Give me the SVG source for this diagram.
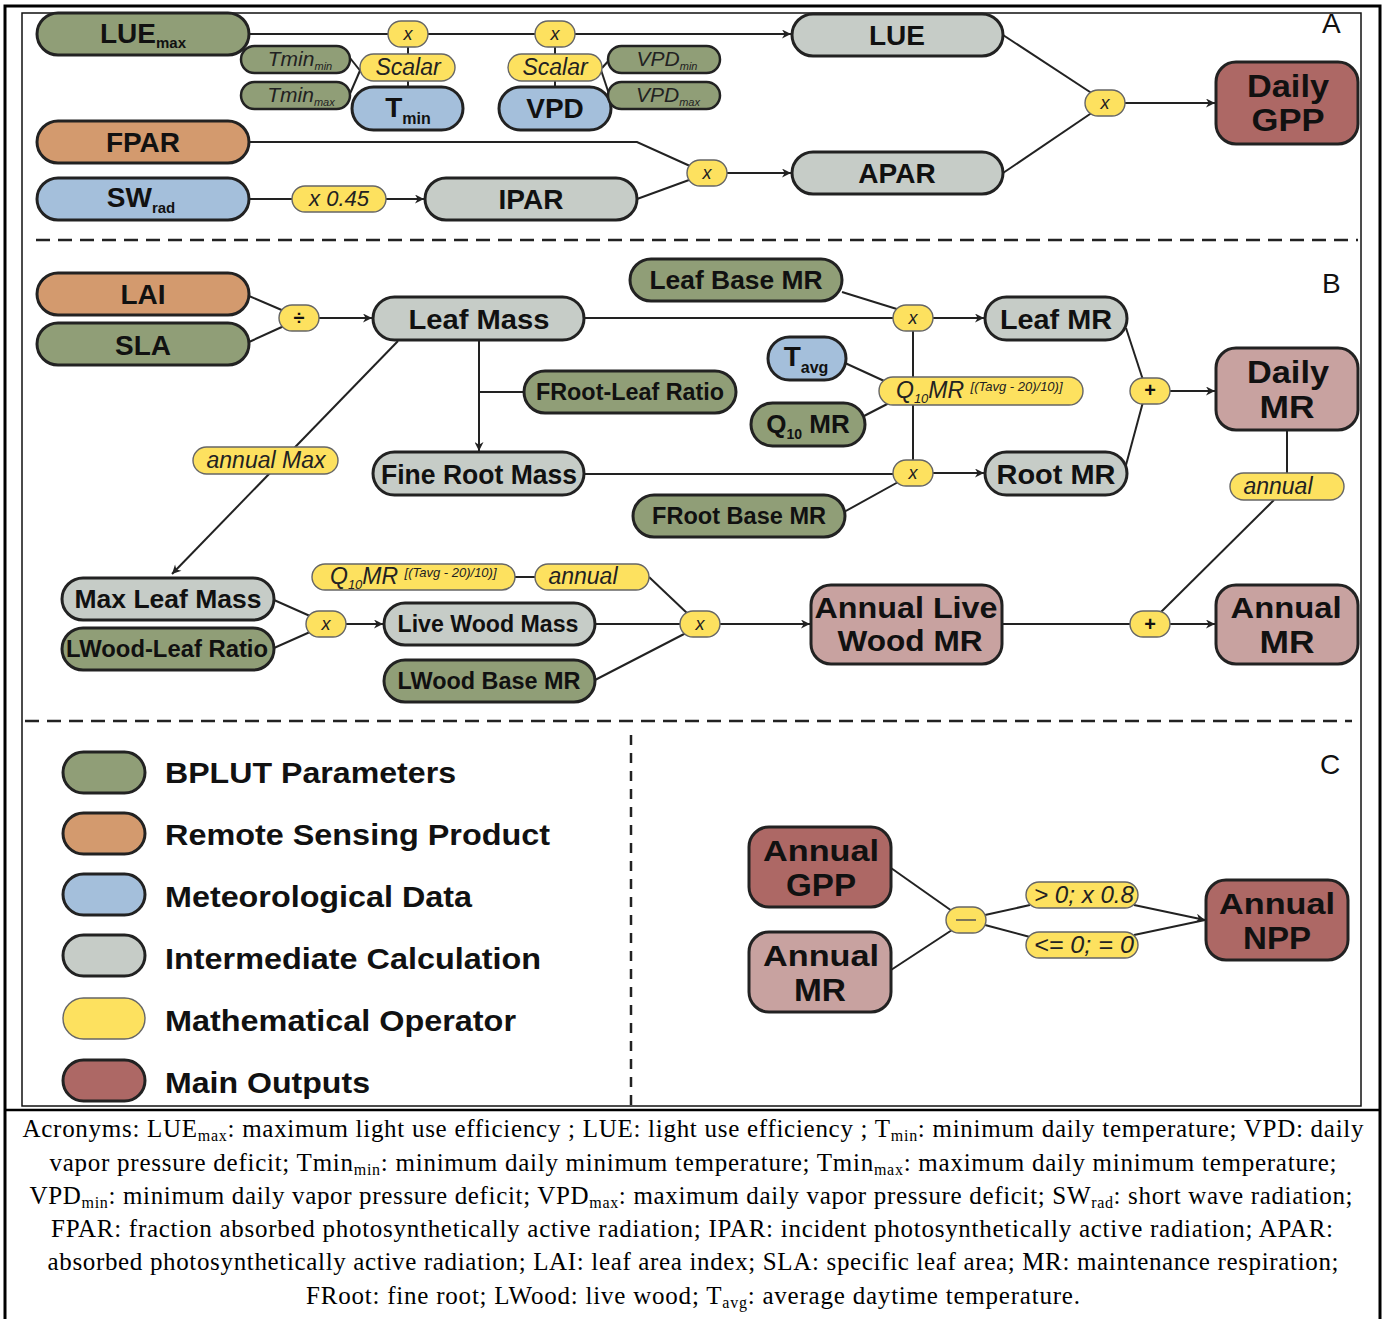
<svg xmlns="http://www.w3.org/2000/svg" width="1386" height="1319" viewBox="0 0 1386 1319">
<defs>
<style>
.p{stroke:#222;stroke-width:3}
.ps{stroke:#222;stroke-width:2.5}
.g{fill:#909e77}.o{fill:#d39a6e}.b{fill:#a4bfdb}.gr{fill:#c6ccc7}.dr{fill:#ad6865}.ro{fill:#c8a2a0}
.y{fill:#fde15f;stroke:#666;stroke-width:1.4}
.t{font-family:"Liberation Sans",Arial,Helvetica,sans-serif;font-weight:bold;fill:#111;text-anchor:middle}
.i{font-family:"Liberation Sans",Arial,Helvetica,sans-serif;font-style:italic;fill:#222;text-anchor:middle}
.is{font-family:"Liberation Sans",Arial,Helvetica,sans-serif;font-style:italic;fill:#222;text-anchor:start}
.sec{font-family:"Liberation Sans",Arial,sans-serif;font-size:28px;fill:#111}
.cap{font-family:"Liberation Serif","Times New Roman",serif;font-size:25px;fill:#000;text-anchor:middle}
.c line,.c polyline{stroke:#222;stroke-width:2;fill:none}
.lg{font-family:"Liberation Sans",Arial,sans-serif;font-weight:bold;font-size:30px;fill:#111}
</style>
<marker id="arr" viewBox="0 0 10 10" refX="10" refY="5" markerWidth="11" markerHeight="9" markerUnits="userSpaceOnUse" orient="auto"><path d="M0,0 L10,5 L0,10 L3,5 z" fill="#222"/></marker>
</defs>
<rect width="1386" height="1319" fill="#fff"/>
<g id="frame">
<rect x="5" y="6" width="1375" height="1318" fill="none" stroke="#000" stroke-width="3"/>
<line x1="5" y1="1110" x2="1380" y2="1110" stroke="#000" stroke-width="2.5"/>
<rect x="22" y="13" width="1339" height="1093" fill="none" stroke="#111" stroke-width="1.5"/>
<line x1="36" y1="240" x2="1358" y2="240" stroke="#222" stroke-width="2.5" stroke-dasharray="14 8"/>
<line x1="25" y1="721" x2="1352" y2="721" stroke="#222" stroke-width="2.5" stroke-dasharray="14 8"/>
<line x1="631" y1="735" x2="631" y2="1105" stroke="#222" stroke-width="2.5" stroke-dasharray="10 8"/>
<text class="sec" x="1322" y="33">A</text>
<text class="sec" x="1322" y="293">B</text>
<text class="sec" x="1320" y="774">C</text>
</g>
<g id="connectors" class="c">
<line x1="249" y1="34" x2="388" y2="34"/>
<line x1="428" y1="34" x2="535" y2="34"/>
<line x1="575" y1="34" x2="791" y2="34" marker-end="url(#arr)"/>
<line x1="408" y1="47" x2="408" y2="54"/>
<line x1="408" y1="81" x2="408" y2="87"/>
<line x1="555" y1="47" x2="555" y2="54"/>
<line x1="555" y1="81" x2="555" y2="87"/>
<line x1="350" y1="58" x2="362" y2="73"/>
<line x1="349" y1="96" x2="362" y2="66"/>
<line x1="602" y1="68" x2="611" y2="58"/>
<line x1="601" y1="70" x2="611" y2="100"/>
<polyline points="249,142 637,142 690,166"/>
<line x1="637" y1="199" x2="689" y2="180"/>
<line x1="249" y1="199" x2="292" y2="199"/>
<line x1="386" y1="199" x2="424" y2="199" marker-end="url(#arr)"/>
<line x1="727" y1="173" x2="791" y2="173" marker-end="url(#arr)"/>
<line x1="1003" y1="35" x2="1093" y2="94"/>
<line x1="1003" y1="173" x2="1093" y2="112"/>
<line x1="1125" y1="103" x2="1215" y2="103" marker-end="url(#arr)"/>
<line x1="249" y1="296" x2="284" y2="311"/>
<line x1="249" y1="342" x2="284" y2="326"/>
<line x1="319" y1="318" x2="372" y2="318" marker-end="url(#arr)"/>
<line x1="584" y1="318" x2="893" y2="318"/>
<line x1="933" y1="318" x2="984" y2="318" marker-end="url(#arr)"/>
<line x1="842" y1="292" x2="900" y2="310"/>
<line x1="913" y1="331" x2="913" y2="460"/>
<line x1="845" y1="363" x2="893" y2="385"/>
<line x1="864" y1="416" x2="893" y2="401"/>
<line x1="479" y1="340" x2="479" y2="451" marker-end="url(#arr)"/>
<line x1="524" y1="392" x2="479" y2="392"/>
<line x1="584" y1="474" x2="893" y2="474"/>
<line x1="933" y1="473" x2="984" y2="473" marker-end="url(#arr)"/>
<line x1="844" y1="512" x2="900" y2="481"/>
<line x1="1126" y1="328" x2="1143" y2="380"/>
<line x1="1126" y1="465" x2="1143" y2="402"/>
<line x1="1170" y1="391" x2="1215" y2="391" marker-end="url(#arr)"/>
<line x1="1287" y1="430" x2="1287" y2="473"/>
<line x1="1274" y1="500" x2="1160" y2="613"/>
<line x1="398" y1="341" x2="172" y2="574" marker-end="url(#arr)"/>
<line x1="274" y1="600" x2="310" y2="616"/>
<line x1="274" y1="648" x2="310" y2="632"/>
<line x1="346" y1="624" x2="383" y2="624" marker-end="url(#arr)"/>
<line x1="595" y1="624" x2="680" y2="624"/>
<line x1="595" y1="680" x2="686" y2="633"/>
<line x1="515" y1="577" x2="535" y2="577"/>
<line x1="649" y1="577" x2="688" y2="614"/>
<line x1="720" y1="624" x2="810" y2="624" marker-end="url(#arr)"/>
<line x1="1002" y1="624" x2="1130" y2="624"/>
<line x1="1170" y1="624" x2="1215" y2="624" marker-end="url(#arr)"/>
<line x1="891" y1="868" x2="952" y2="911"/>
<line x1="891" y1="970" x2="952" y2="930"/>
<line x1="985" y1="915" x2="1030" y2="905"/>
<line x1="1134" y1="905" x2="1205" y2="920" marker-end="url(#arr)"/>
<line x1="985" y1="925" x2="1030" y2="937"/>
<line x1="1134" y1="935" x2="1205" y2="920"/>
</g>
<g id="n-luemax"><rect class="p g" x="37" y="13" width="212" height="42" rx="21"/><text class="t" x="143" y="43" font-size="28">LUE<tspan font-size="15" dy="5">max</tspan></text></g>
<g id="n-tminmin"><rect class="ps g" x="241" y="46" width="109" height="27" rx="13.5"/><text class="i" x="300" y="66" font-size="21">Tmin<tspan font-size="11" dy="4">min</tspan></text></g>
<g id="n-tminmax"><rect class="ps g" x="241" y="82" width="109" height="27" rx="13.5"/><text class="i" x="301" y="102" font-size="21">Tmin<tspan font-size="11" dy="4">max</tspan></text></g>
<g id="op-x1"><rect class="y" x="388" y="21" width="40" height="26" rx="13"/><text class="i" x="408" y="40" font-size="18">x</text></g>
<g id="op-scalar1"><rect class="y" x="360" y="54" width="95" height="27" rx="13.5"/><text class="i" x="408" y="75" font-size="23">Scalar</text></g>
<g id="n-tmin"><rect class="p b" x="352" y="87" width="111" height="43" rx="21.5"/><text class="t" x="408" y="117" font-size="28">T<tspan font-size="16" dy="7">min</tspan></text></g>
<g id="op-x2"><rect class="y" x="535" y="21" width="40" height="26" rx="13"/><text class="i" x="555" y="40" font-size="18">x</text></g>
<g id="op-scalar2"><rect class="y" x="508" y="54" width="94" height="27" rx="13.5"/><text class="i" x="555" y="75" font-size="23">Scalar</text></g>
<g id="n-vpd"><rect class="p b" x="499" y="87" width="112" height="43" rx="21.5"/><text class="t" x="555" y="118" font-size="28">VPD</text></g>
<g id="n-vpdmin"><rect class="ps g" x="608" y="46" width="112" height="27" rx="13.5"/><text class="i" x="667" y="66" font-size="21">VPD<tspan font-size="11" dy="4">min</tspan></text></g>
<g id="n-vpdmax"><rect class="ps g" x="608" y="82" width="112" height="27" rx="13.5"/><text class="i" x="668" y="102" font-size="21">VPD<tspan font-size="11" dy="4">max</tspan></text></g>
<g id="n-lue"><rect class="p gr" x="792" y="14" width="211" height="42" rx="21"/><text class="t" x="897" y="45" font-size="28">LUE</text></g>
<g id="n-fpar"><rect class="p o" x="37" y="121" width="212" height="42" rx="21"/><text class="t" x="143" y="152" font-size="28">FPAR</text></g>
<g id="n-swrad"><rect class="p b" x="37" y="178" width="212" height="42" rx="21"/><text class="t" x="141" y="207" font-size="28">SW<tspan font-size="15" dy="6">rad</tspan></text></g>
<g id="op-045"><rect class="y" x="292" y="186" width="94" height="26" rx="13"/><text class="i" x="339" y="206" font-size="22">x 0.45</text></g>
<g id="n-ipar"><rect class="p gr" x="425" y="178" width="212" height="42" rx="21"/><text class="t" x="531" y="209" font-size="28">IPAR</text></g>
<g id="op-x3"><rect class="y" x="687" y="160" width="40" height="26" rx="13"/><text class="i" x="707" y="179" font-size="18">x</text></g>
<g id="n-apar"><rect class="p gr" x="792" y="152" width="211" height="42" rx="21"/><text class="t" x="897" y="183" font-size="28">APAR</text></g>
<g id="op-x4"><rect class="y" x="1085" y="90" width="40" height="26" rx="13"/><text class="i" x="1105" y="109" font-size="18">x</text></g>
<g id="n-dailygpp"><rect class="p dr" x="1216" y="62" width="142" height="82" rx="20"/><text class="t" x="1288" y="97" font-size="31" textLength="82" lengthAdjust="spacingAndGlyphs">Daily</text><text class="t" x="1288" y="131" font-size="31" textLength="73" lengthAdjust="spacingAndGlyphs">GPP</text></g>
<g id="n-lai"><rect class="p o" x="37" y="273" width="212" height="42" rx="21"/><text class="t" x="143" y="304" font-size="28">LAI</text></g>
<g id="n-sla"><rect class="p g" x="37" y="323" width="212" height="42" rx="21"/><text class="t" x="143" y="355" font-size="28">SLA</text></g>
<g id="op-div"><rect class="y" x="279" y="305" width="40" height="26" rx="13"/><text class="t" x="299" y="325" font-size="20" font-weight="normal" fill="#444">÷</text></g>
<g id="n-leafmass"><rect class="p gr" x="373" y="297" width="211" height="43" rx="21.5"/><text class="t" x="479" y="329" font-size="28" textLength="141" lengthAdjust="spacingAndGlyphs">Leaf Mass</text></g>
<g id="n-leafbasemr"><rect class="p g" x="630" y="259" width="212" height="42" rx="21"/><text class="t" x="736" y="289" font-size="26" textLength="173" lengthAdjust="spacingAndGlyphs">Leaf Base MR</text></g>
<g id="op-x5"><rect class="y" x="893" y="305" width="40" height="26" rx="13"/><text class="i" x="913" y="324" font-size="18">x</text></g>
<g id="n-leafmr"><rect class="p gr" x="985" y="297" width="142" height="43" rx="21.5"/><text class="t" x="1056" y="329" font-size="28" textLength="112" lengthAdjust="spacingAndGlyphs">Leaf MR</text></g>
<g id="n-tavg"><rect class="p b" x="768" y="337" width="78" height="43" rx="21.5"/><text class="t" x="806" y="366" font-size="28">T<tspan font-size="16" dy="7">avg</tspan></text></g>
<g id="op-q10a"><rect class="y" x="879" y="377" width="204" height="28" rx="14"/><text class="is" x="896" y="398" font-size="23">Q<tspan font-size="13" dy="5">10</tspan><tspan dy="-5">MR </tspan><tspan font-size="13" dy="-7">[(Tavg - 20)/10)]</tspan></text></g>
<g id="n-q10mr"><rect class="p g" x="751" y="403" width="114" height="43" rx="21.5"/><text class="t" x="808" y="433" font-size="26">Q<tspan font-size="14" dy="6">10</tspan><tspan dy="-6"> MR</tspan></text></g>
<g id="n-frootleaf"><rect class="p g" x="524" y="371" width="212" height="42" rx="21"/><text class="t" x="630" y="400" font-size="23" textLength="188" lengthAdjust="spacingAndGlyphs">FRoot-Leaf Ratio</text></g>
<g id="n-finerootmass"><rect class="p gr" x="373" y="452" width="211" height="43" rx="21.5"/><text class="t" x="479" y="484" font-size="27" textLength="196" lengthAdjust="spacingAndGlyphs">Fine Root Mass</text></g>
<g id="op-x6"><rect class="y" x="893" y="460" width="40" height="26" rx="13"/><text class="i" x="913" y="479" font-size="18">x</text></g>
<g id="n-rootmr"><rect class="p gr" x="985" y="452" width="142" height="43" rx="21.5"/><text class="t" x="1056" y="484" font-size="28" textLength="119" lengthAdjust="spacingAndGlyphs">Root MR</text></g>
<g id="n-frootbasemr"><rect class="p g" x="633" y="495" width="212" height="42" rx="21"/><text class="t" x="739" y="524" font-size="23" textLength="174" lengthAdjust="spacingAndGlyphs">FRoot Base MR</text></g>
<g id="op-plus1"><rect class="y" x="1130" y="378" width="40" height="26" rx="13"/><text class="t" x="1150" y="397" font-size="20" font-weight="normal" fill="#444">+</text></g>
<g id="n-dailymr"><rect class="p ro" x="1216" y="348" width="142" height="82" rx="20"/><text class="t" x="1288" y="383" font-size="31" textLength="82" lengthAdjust="spacingAndGlyphs">Daily</text><text class="t" x="1287" y="418" font-size="31" textLength="55" lengthAdjust="spacingAndGlyphs">MR</text></g>
<g id="op-annual1"><rect class="y" x="1230" y="473" width="114" height="27" rx="13.5"/><text class="i" x="1278" y="494" font-size="23">annual</text></g>
<g id="op-annualmax"><rect class="y" x="193" y="447" width="145" height="27" rx="13.5"/><text class="i" x="266" y="468" font-size="23">annual Max</text></g>
<g id="n-maxleafmass"><rect class="p gr" x="62" y="578" width="212" height="42" rx="21"/><text class="t" x="168" y="608" font-size="26" textLength="187" lengthAdjust="spacingAndGlyphs">Max Leaf Mass</text></g>
<g id="n-lwoodleaf"><rect class="p g" x="62" y="628" width="212" height="42" rx="21"/><text class="t" x="167" y="657" font-size="23" textLength="202" lengthAdjust="spacingAndGlyphs">LWood-Leaf Ratio</text></g>
<g id="op-x7"><rect class="y" x="306" y="611" width="40" height="26" rx="13"/><text class="i" x="326" y="630" font-size="18">x</text></g>
<g id="n-livewoodmass"><rect class="p gr" x="384" y="603" width="211" height="42" rx="21"/><text class="t" x="488" y="632" font-size="23" textLength="181" lengthAdjust="spacingAndGlyphs">Live Wood Mass</text></g>
<g id="n-lwoodbasemr"><rect class="p g" x="384" y="660" width="211" height="42" rx="21"/><text class="t" x="489" y="689" font-size="23" textLength="183" lengthAdjust="spacingAndGlyphs">LWood Base MR</text></g>
<g id="op-q10b"><rect class="y" x="312" y="564" width="203" height="26" rx="13"/><text class="is" x="330" y="584" font-size="23">Q<tspan font-size="13" dy="5">10</tspan><tspan dy="-5">MR </tspan><tspan font-size="13" dy="-7">[(Tavg - 20)/10)]</tspan></text></g>
<g id="op-annual2"><rect class="y" x="535" y="564" width="114" height="26" rx="13"/><text class="i" x="583" y="584" font-size="23">annual</text></g>
<g id="op-x8"><rect class="y" x="680" y="611" width="40" height="26" rx="13"/><text class="i" x="700" y="630" font-size="18">x</text></g>
<g id="n-annuallivewoodmr"><rect class="p ro" x="811" y="585" width="191" height="79" rx="20"/><text class="t" x="906" y="618" font-size="30" textLength="183" lengthAdjust="spacingAndGlyphs">Annual Live</text><text class="t" x="910" y="651" font-size="30" textLength="145" lengthAdjust="spacingAndGlyphs">Wood MR</text></g>
<g id="op-plus2"><rect class="y" x="1130" y="611" width="40" height="26" rx="13"/><text class="t" x="1150" y="631" font-size="20" font-weight="normal" fill="#444">+</text></g>
<g id="n-annualmr"><rect class="p ro" x="1216" y="585" width="142" height="79" rx="20"/><text class="t" x="1286" y="618" font-size="30" textLength="111" lengthAdjust="spacingAndGlyphs">Annual</text><text class="t" x="1287" y="653" font-size="31" textLength="55" lengthAdjust="spacingAndGlyphs">MR</text></g>
<g id="legend">
<rect class="p g" x="63" y="752" width="82" height="41" rx="20.5"/><text class="lg" x="165" y="783" textLength="291" lengthAdjust="spacingAndGlyphs">BPLUT Parameters</text>
<rect class="p o" x="63" y="813" width="82" height="41" rx="20.5"/><text class="lg" x="165" y="845" textLength="385" lengthAdjust="spacingAndGlyphs">Remote Sensing Product</text>
<rect class="p b" x="63" y="874" width="82" height="41" rx="20.5"/><text class="lg" x="165" y="907" textLength="307" lengthAdjust="spacingAndGlyphs">Meteorological Data</text>
<rect class="p gr" x="63" y="935" width="82" height="41" rx="20.5"/><text class="lg" x="165" y="969" textLength="376" lengthAdjust="spacingAndGlyphs">Intermediate Calculation</text>
<rect class="y" x="63" y="998" width="82" height="41" rx="20.5"/><text class="lg" x="165" y="1031" textLength="351" lengthAdjust="spacingAndGlyphs">Mathematical Operator</text>
<rect class="p dr" x="63" y="1060" width="82" height="41" rx="20.5"/><text class="lg" x="165" y="1093" textLength="205" lengthAdjust="spacingAndGlyphs">Main Outputs</text>
</g>
<g id="n-annualgpp"><rect class="p dr" x="749" y="827" width="142" height="80" rx="20"/><text class="t" x="821" y="861" font-size="30" textLength="116" lengthAdjust="spacingAndGlyphs">Annual</text><text class="t" x="821" y="896" font-size="31" textLength="70" lengthAdjust="spacingAndGlyphs">GPP</text></g>
<g id="n-annualmr-c"><rect class="p ro" x="749" y="932" width="142" height="80" rx="20"/><text class="t" x="821" y="966" font-size="30" textLength="116" lengthAdjust="spacingAndGlyphs">Annual</text><text class="t" x="820" y="1001" font-size="31" textLength="52" lengthAdjust="spacingAndGlyphs">MR</text></g>
<g id="op-minus"><rect class="y" x="946" y="907" width="40" height="26" rx="13"/><line x1="956" y1="920" x2="976" y2="920" stroke="#555" stroke-width="1.5"/></g>
<g id="op-pos"><rect class="y" x="1026" y="882" width="112" height="26" rx="13"/><text class="i" x="1084" y="903" font-size="23" textLength="100" lengthAdjust="spacingAndGlyphs">&gt; 0; x 0.8</text></g>
<g id="op-neg"><rect class="y" x="1026" y="932" width="112" height="26" rx="13"/><text class="i" x="1084" y="953" font-size="23" textLength="100" lengthAdjust="spacingAndGlyphs">&lt;= 0; = 0</text></g>
<g id="n-annualnpp"><rect class="p dr" x="1206" y="880" width="142" height="80" rx="20"/><text class="t" x="1277" y="914" font-size="30" textLength="116" lengthAdjust="spacingAndGlyphs">Annual</text><text class="t" x="1277" y="949" font-size="31" textLength="68" lengthAdjust="spacingAndGlyphs">NPP</text></g>
<g id="caption">
<text class="cap" x="693" y="1137" textLength="1341" lengthAdjust="spacing">Acronyms: LUE<tspan font-size="16" dy="4">max</tspan><tspan dy="-4">: maximum light use efficiency ; LUE: light use efficiency ; T</tspan><tspan font-size="16" dy="4">min</tspan><tspan dy="-4">: minimum daily temperature; VPD: daily</tspan></text>
<text class="cap" x="693" y="1171" textLength="1287" lengthAdjust="spacing">vapor pressure deficit; Tmin<tspan font-size="16" dy="4">min</tspan><tspan dy="-4">: minimum daily minimum temperature; Tmin</tspan><tspan font-size="16" dy="4">max</tspan><tspan dy="-4">: maximum daily minimum temperature;</tspan></text>
<text class="cap" x="691" y="1204" textLength="1323" lengthAdjust="spacing">VPD<tspan font-size="16" dy="4">min</tspan><tspan dy="-4">: minimum daily vapor pressure deficit; VPD</tspan><tspan font-size="16" dy="4">max</tspan><tspan dy="-4">: maximum daily vapor pressure deficit; SW</tspan><tspan font-size="16" dy="4">rad</tspan><tspan dy="-4">: short wave radiation;</tspan></text>
<text class="cap" x="692" y="1237" textLength="1282" lengthAdjust="spacing">FPAR: fraction absorbed photosynthetically active radiation; IPAR: incident photosynthetically active radiation; APAR:</text>
<text class="cap" x="693" y="1270" textLength="1291" lengthAdjust="spacing">absorbed photosynthetically active radiation; LAI: leaf area index; SLA: specific leaf area; MR: maintenance respiration;</text>
<text class="cap" x="693" y="1304" textLength="774" lengthAdjust="spacing">FRoot: fine root; LWood: live wood; T<tspan font-size="16" dy="4">avg</tspan><tspan dy="-4">: average daytime temperature.</tspan></text>
</g>
</svg>
